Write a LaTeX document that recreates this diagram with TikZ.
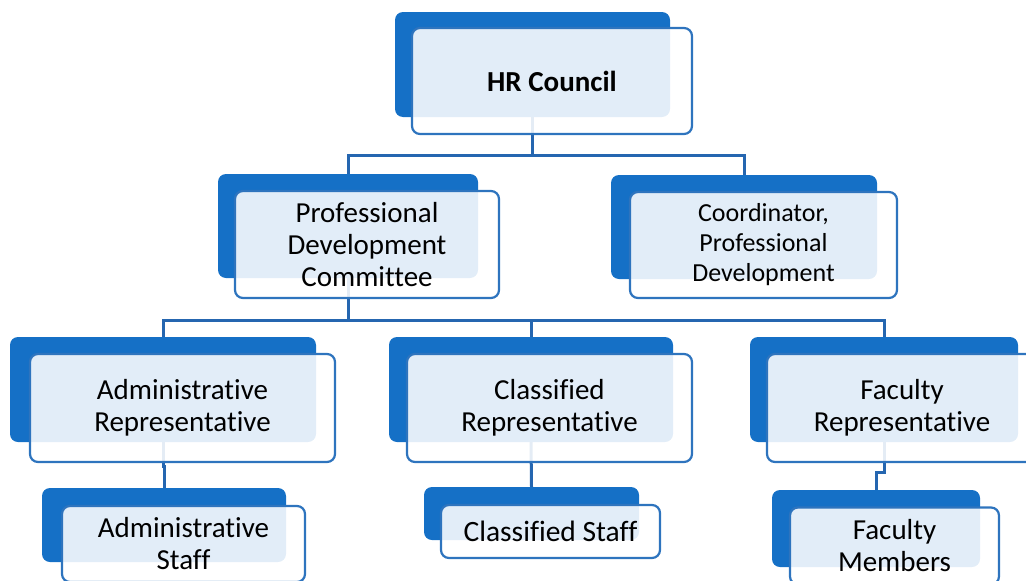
\documentclass[tikz,border=0pt]{standalone}
\usepackage{fontspec}
\setmainfont[Ligatures={NoCommon}]{Carlito}
\usetikzlibrary{backgrounds}
\definecolor{hrdark}{HTML}{1570C6}
\definecolor{hredge}{HTML}{2E74BE}
\definecolor{hrline}{HTML}{2566B0}

\begin{document}
\begin{tikzpicture}[
  x=1pt, y=-1pt,
  back/.style={fill=hrdark, rounded corners=8pt, inner sep=0pt},
  front/.style={draw=hredge, line width=2.2pt, fill=white, fill opacity=0.88,
                text opacity=1, rounded corners=8pt, align=center, inner sep=0pt,
                font=\fontsize{29}{32}\selectfont},
  link/.style={draw=hrline, line width=3pt}
]
  \useasboundingbox (0,0) rectangle (1026,581);
  \clip (0,0) rectangle (1026,581);

  % top level
  \node[back, minimum width=275pt, minimum height=105pt] (hrB) at (532.5,64.5) {};
  \node[front, minimum width=280pt, minimum height=106pt] (hr) at (552,81) {\textbf{HR Council}};

  % second level
  \node[back, minimum width=260pt, minimum height=104pt] (pdcB) at (348,226) {};
  \node[front, minimum width=264pt, minimum height=107pt] (pdc) at (367,244.5)
    {Professional\\Development\\Committee};

  \node[back, minimum width=266pt, minimum height=104pt] (coordB) at (744,227) {};
  \node[front, minimum width=267pt, minimum height=106pt,
        font=\fontsize{26}{30}\selectfont] (coord) at (763.5,245)
    {Coordinator,\\Professional\\Development};

  % representatives
  \node[back, minimum width=306pt, minimum height=105pt] (arB) at (163,389.5) {};
  \node[front, minimum width=305pt, minimum height=108pt] (ar) at (182.5,408)
    {Administrative\\Representative};

  \node[back, minimum width=284pt, minimum height=105pt] (crB) at (531,389.5) {};
  \node[front, minimum width=285pt, minimum height=108pt] (cr) at (549.5,408)
    {Classified\\Representative};

  \node[back, minimum width=268pt, minimum height=105pt] (frB) at (884,389.5) {};
  \node[front, minimum width=270pt, minimum height=108pt] (fr) at (902,408)
    {Faculty\\Representative};

  % staff
  \node[back, minimum width=244pt, minimum height=74pt] (asB) at (164,525) {};
  \node[front, minimum width=243pt, minimum height=76pt] (as) at (183.5,544)
    {Administrative\\Staff};

  \node[back, minimum width=215pt, minimum height=53pt] (csB) at (531.5,513.5) {};
  \node[front, minimum width=219pt, minimum height=53pt,
        font=\fontsize{29.5}{32}\selectfont] (cs) at (550.5,531.5) {Classified Staff};

  \node[back, minimum width=208pt, minimum height=77pt] (fmB) at (876,528.5) {};
  \node[front, minimum width=209pt, minimum height=77pt] (fm) at (894.5,546)
    {Faculty\\Members};

  % connectors
  \begin{scope}[on background layer]
    \draw[link] (hrB.south) -- ++(0,38) -| (pdcB.north);
    \draw[link] (hrB.south) -- ++(0,38) -| (coordB.north);
    \draw[link] (pdcB.south) -- ++(0,42) -| (arB.north);
    \draw[link] (pdcB.south) -- ++(0,42) -| (crB.north);
    \draw[link] (pdcB.south) -- ++(0,42) -| (frB.north);
    \draw[link] (arB.south) -- ++(0,24) -| (asB.north);
    \draw[link] (crB.south) -- (csB.north);
    \draw[link] (frB.south) -- ++(0,30) -| (fmB.north);
  \end{scope}
\end{tikzpicture}
\end{document}
